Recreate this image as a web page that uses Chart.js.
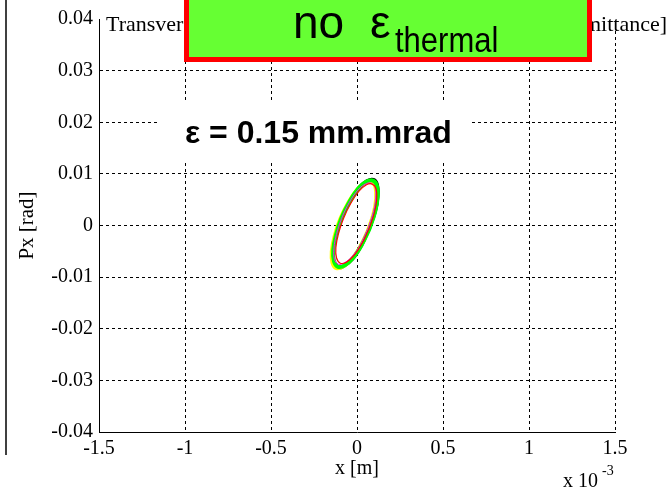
<!DOCTYPE html>
<html>
<head>
<meta charset="utf-8">
<script src="https://cdn.jsdelivr.net/npm/chart.js@4.4.0/dist/chart.umd.min.js"></script>
<style>
  html, body { margin: 0; padding: 0; background: #fff; }
  #wrap { width: 668px; height: 489px; }
</style>
</head>
<body>
<div id="wrap"><canvas id="phaseChart" width="668" height="489"></canvas></div>
<script>
// x axis is in units of 1e-3 m (see the "x 10^-3" multiplier)
const xTicks = [-1.5, -1, -0.5, 0, 0.5, 1, 1.5];
const xTickLabels = ['-1.5', '-1', '-0.5', '0', '0.5', '1', '1.5'];
const yTicks = [-0.04, -0.03, -0.02, -0.01, 0, 0.01, 0.02, 0.03, 0.04];
const yTickLabels = ['-0.04', '-0.03', '-0.02', '-0.01', '0', '0.01', '0.02', '0.03', '0.04'];

// phase space contours, one per slice colour (loop closed on the first point)
const greenX = [0.072, 0.027, -0.023, -0.072, -0.110, -0.134, -0.138, -0.122, -0.090, -0.044, 0.006, 0.055, 0.093, 0.116, 0.120, 0.105, 0.072];
const greenY = [-0.0007, -0.0038, -0.0063, -0.0077, -0.0080, -0.0069, -0.0047, -0.0018, 0.0015, 0.0046, 0.0071, 0.0085, 0.0087, 0.0077, 0.0055, 0.0026, -0.0007];

const blackX = [0.075, 0.028, -0.024, -0.075, -0.114, -0.139, -0.143, -0.127, -0.093, -0.045, 0.007, 0.058, 0.097, 0.121, 0.125, 0.110, 0.075];
const blackY = [-0.0007, -0.0040, -0.0066, -0.0080, -0.0083, -0.0072, -0.0049, -0.0019, 0.0015, 0.0048, 0.0074, 0.0088, 0.0090, 0.0080, 0.0057, 0.0027, -0.0007];

const yellowX = [0.062, 0.017, -0.033, -0.082, -0.120, -0.144, -0.148, -0.132, -0.100, -0.054, -0.004, 0.045, 0.083, 0.106, 0.110, 0.095, 0.062];
const yellowY = [-0.0010, -0.0041, -0.0066, -0.0080, -0.0083, -0.0072, -0.0050, -0.0021, 0.0012, 0.0043, 0.0068, 0.0082, 0.0084, 0.0074, 0.0052, 0.0023, -0.0010];

const magentaX = [0.063, 0.021, -0.026, -0.072, -0.108, -0.131, -0.134, -0.119, -0.089, -0.046, 0.001, 0.047, 0.083, 0.105, 0.108, 0.094, 0.063];
const magentaY = [-0.0006, -0.0036, -0.0059, -0.0072, -0.0075, -0.0065, -0.0044, -0.0017, 0.0014, 0.0044, 0.0067, 0.0080, 0.0082, 0.0073, 0.0052, 0.0025, -0.0006];

const redX = [0.071, 0.029, -0.017, -0.062, -0.097, -0.119, -0.123, -0.108, -0.078, -0.036, 0.010, 0.055, 0.090, 0.111, 0.115, 0.101, 0.071];
const redY = [-0.0006, -0.0035, -0.0058, -0.0071, -0.0073, -0.0063, -0.0043, -0.0016, 0.0014, 0.0043, 0.0066, 0.0079, 0.0080, 0.0071, 0.0051, 0.0024, -0.0006];

function ring(xs, ys, color, width, order) {
  return {
    data: xs.map((x, i) => ({ x: x, y: ys[i] })),
    showLine: true,
    borderColor: color,
    borderWidth: width,
    pointRadius: 0,
    tension: 0.4,
    fill: false,
    order: order
  };
}

const serif = '"Liberation Serif", "Times New Roman", serif';
const sans = '"Liberation Sans", Arial, sans-serif';

// annotations drawn straight on the canvas
const overlay = {
  id: 'overlay',
  afterDraw(chart) {
    const ctx = chart.ctx;
    ctx.save();

    // left frame rule
    ctx.strokeStyle = '#000';
    ctx.lineWidth = 1.5;
    ctx.beginPath();
    ctx.moveTo(6, 0);
    ctx.lineTo(6, 455);
    ctx.stroke();

    // title strip
    ctx.fillStyle = '#fff';
    ctx.fillRect(100, 0, 568, 27);
    ctx.fillStyle = '#000';
    ctx.font = '22px ' + serif;
    ctx.textBaseline = 'alphabetic';
    ctx.textAlign = 'left';
    ctx.fillText('Transverse phase space', 106, 31);
    ctx.textAlign = 'right';
    ctx.fillText('[normalized emittance]', 667, 31);

    // green banner
    ctx.fillStyle = '#66ff33';
    ctx.fillRect(186, -10, 404, 70);
    ctx.strokeStyle = '#ff0000';
    ctx.lineWidth = 5;
    ctx.strokeRect(186.5, -10, 403, 69.5);
    ctx.fillStyle = '#000';
    ctx.textAlign = 'left';
    ctx.font = '46px ' + sans;
    ctx.fillText('no', 293, 38);
    ctx.fillText('ε', 370, 38);
    ctx.save();
    ctx.translate(395, 52);
    ctx.scale(1, 1.15);
    ctx.font = '31px ' + sans;
    ctx.fillText('thermal', 0, 0);
    ctx.restore();

    // emittance label
    ctx.fillStyle = '#fff';
    ctx.fillRect(160, 100, 310, 63);
    ctx.fillStyle = '#000';
    ctx.font = 'bold 32px ' + sans;
    ctx.fillText('ε = 0.15 mm.mrad', 185, 143);

    // axis multiplier
    ctx.font = '20px ' + serif;
    ctx.fillText('x 10', 563, 487);
    ctx.font = '14px ' + serif;
    ctx.fillText('-3', 602, 475);

    ctx.restore();
  }
};

new Chart(document.getElementById('phaseChart'), {
  type: 'scatter',
  data: {
    datasets: [
      ring(blackX, blackY, '#000000', 2, 5),
      ring(yellowX, yellowY, '#ffff00', 3.5, 4),
      ring(greenX, greenY, '#00ff00', 4, 3),
      ring(magentaX, magentaY, '#ff00ff', 1, 2),
      ring(redX, redY, '#ff0000', 1.2, 1)
    ]
  },
  options: {
    responsive: false,
    animation: false,
    devicePixelRatio: 1,
    layout: { padding: { left: 0, right: 53, top: 19, bottom: 0 } },
    plugins: {
      legend: { display: false },
      tooltip: { enabled: false }
    },
    scales: {
      x: {
        type: 'linear',
        min: -1.5,
        max: 1.5,
        afterBuildTicks: s => { s.ticks = xTicks.map(v => ({ value: v })); },
        afterFit: s => { s.height = 57; },
        grid: { color: '#000', lineWidth: 1, drawTicks: false },
        border: { color: '#000', width: 1, dash: [3, 3] },
        ticks: {
          padding: 5,
          color: '#000',
          font: { family: serif, size: 20 },
          maxRotation: 0,
          callback: (v, i) => xTickLabels[i]
        },
        title: {
          display: true,
          text: 'x [m]',
          color: '#000',
          font: { family: serif, size: 20 },
          padding: { top: 0, bottom: 8 }
        }
      },
      y: {
        type: 'linear',
        min: -0.04,
        max: 0.04,
        afterBuildTicks: s => { s.ticks = yTicks.map(v => ({ value: v })); },
        afterFit: s => { s.width = 99; },
        grid: { color: '#000', lineWidth: 1, drawTicks: false },
        border: { color: '#000', width: 1, dash: [3, 3] },
        ticks: {
          padding: 6,
          color: '#000',
          font: { family: serif, size: 20 },
          callback: (v, i) => yTickLabels[i]
        },
        title: {
          display: true,
          text: 'Px [rad]',
          color: '#000',
          font: { family: serif, size: 21 },
          padding: { top: 15, bottom: 0 }
        }
      }
    }
  },
  plugins: [overlay]
});
</script>
</body>
</html>
